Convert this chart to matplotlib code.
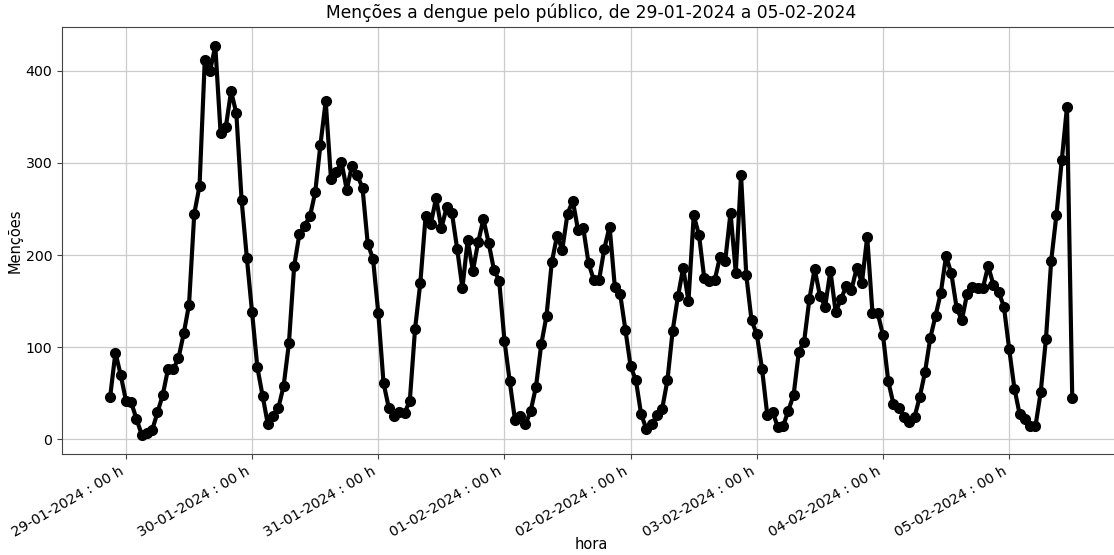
import pandas as pd
import matplotlib
matplotlib.use('Agg')
import matplotlib.pyplot as plt
import matplotlib.dates as mdates

# menções por hora, de 28-01 21h até 05-02 12h
d28 = [46, 94, 70]
d29 = [42, 40, 22, 5, 7, 10, 29, 48, 76, 76, 88, 115, 146, 245, 275, 412, 400, 427, 333, 339, 378, 354, 260, 197]
d30 = [138, 78, 47, 16, 25, 34, 58, 104, 188, 223, 232, 242, 268, 320, 367, 283, 290, 301, 271, 297, 287, 273, 212, 196]
d31 = [137, 61, 34, 25, 30, 28, 42, 120, 170, 242, 234, 262, 229, 252, 246, 207, 164, 216, 183, 214, 239, 213, 184, 172]
d01 = [107, 63, 21, 25, 16, 31, 57, 103, 134, 192, 221, 206, 245, 259, 227, 229, 191, 173, 173, 207, 231, 165, 158, 119]
d02 = [79, 64, 27, 11, 16, 26, 33, 64, 118, 155, 186, 150, 243, 222, 175, 172, 173, 198, 194, 246, 181, 287, 178, 129]
d03 = [114, 76, 26, 30, 13, 14, 31, 48, 95, 106, 152, 185, 156, 144, 183, 138, 152, 166, 162, 186, 170, 220, 137, 137]
d04 = [113, 63, 38, 34, 24, 19, 24, 46, 73, 110, 134, 159, 199, 180, 143, 129, 158, 165, 164, 164, 188, 168, 160, 144]
d05 = [98, 55, 27, 22, 14, 14, 51, 109, 194, 244, 303, 361, 45]

mencoes = d28 + d29 + d30 + d31 + d01 + d02 + d03 + d04 + d05
horas = pd.date_range('2024-01-28 21:00', periods=len(mencoes), freq='h')

fig = plt.figure(figsize=(11.14, 5.55), dpi=100)
ax = fig.add_axes([0.0557, 0.182, 0.95, 0.770])

ax.plot(horas, mencoes, color='black', linewidth=3, marker='o', markersize=7)

ax.xaxis.set_major_locator(mdates.DayLocator())
ax.xaxis.set_major_formatter(mdates.DateFormatter('%d-%m-%Y : %H h'))
plt.setp(ax.get_xticklabels(), rotation=30, ha='right')

ax.grid(True, color='#cccccc', linewidth=0.9)
ax.set_axisbelow(True)
for s in ax.spines.values():
    s.set_color('#444444')
ax.tick_params(labelsize=10.2, color='#444444')

ax.set_title('Menções a dengue pelo público, de 29-01-2024 a 05-02-2024', fontsize=12.3)
ax.set_xlabel('hora', fontsize=10.5)
ax.xaxis.set_label_coords(0.5, -0.195)
ax.set_ylabel('Menções', fontsize=10.5, labelpad=2)

fig.savefig('out.png', dpi=100)
